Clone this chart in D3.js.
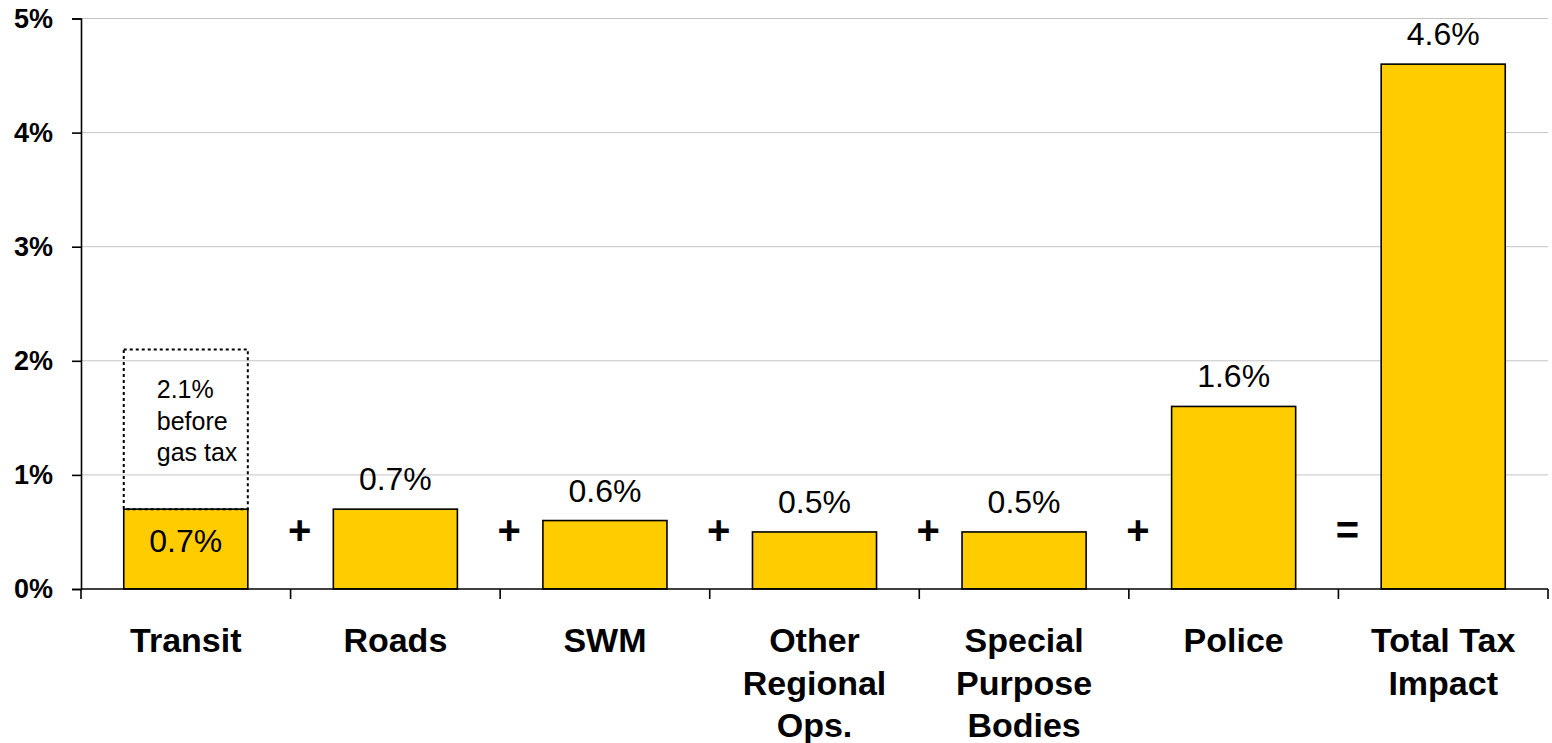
<!DOCTYPE html>
<html>
<head>
<meta charset="utf-8">
<script src="https://cdn.jsdelivr.net/npm/d3@7"></script>
<style>
  html, body { margin: 0; padding: 0; background: #ffffff; }
  svg { display: block; font-family: "Liberation Sans", Arial, sans-serif; }
</style>
</head>
<body>
<svg id="chart" width="1552" height="743"></svg>
<script>
// Components of the tax impact, in percent
const categories = ["Transit", "Roads", "SWM", "Other Regional Ops.", "Special Purpose Bodies", "Police", "Total Tax Impact"];
const categoryLines = [["Transit"], ["Roads"], ["SWM"], ["Other", "Regional", "Ops."], ["Special", "Purpose", "Bodies"], ["Police"], ["Total Tax", "Impact"]];
const values = [0.7, 0.7, 0.6, 0.5, 0.5, 1.6, 4.6];
const operators = ["+", "+", "+", "+", "+", "="];
const yTicks = [0, 1, 2, 3, 4, 5];
// Transit before the gas tax
const transitBeforeGasTax = 2.1;
const transitNote = ["2.1%", "before", "gas tax"];

const svg = d3.select("#chart");
const plotLeft = 81, plotRight = 1548, plotTop = 18.5, plotBottom = 589;

const x = d3.scaleBand().domain(categories).range([plotLeft, plotRight])
  .paddingInner(0.408).paddingOuter(0.204);
const y = d3.scaleLinear().domain([0, 5]).range([plotBottom, plotTop]);
const step = x.step();
const boundary = i => plotLeft + i * step;
const fmt = v => d3.format(".1f")(v) + "%";

// horizontal gridlines
svg.append("g").selectAll("line").data(yTicks.filter(d => d > 0)).join("line")
  .attr("x1", plotLeft).attr("x2", plotRight)
  .attr("y1", d => y(d)).attr("y2", d => y(d))
  .attr("stroke", "#c4c4c4").attr("stroke-width", 1);

// y axis
const yAxis = svg.append("g").attr("transform", `translate(${plotLeft},0)`)
  .call(d3.axisLeft(y).tickValues(yTicks).tickFormat(d => d + "%").tickSize(9).tickPadding(19));
yAxis.select(".domain").attr("stroke", "#000").attr("stroke-width", 1.6);
yAxis.selectAll(".tick line").attr("stroke", "#000").attr("stroke-width", 1.6);
yAxis.selectAll(".tick text").attr("font-size", 27).attr("font-weight", "bold")
  .attr("font-family", "'Liberation Sans', Arial, sans-serif").attr("fill", "#000");

// bars
svg.append("g").selectAll("rect").data(values).join("rect")
  .attr("x", (d, i) => x(categories[i]))
  .attr("y", d => y(d))
  .attr("width", x.bandwidth())
  .attr("height", d => y(0) - y(d))
  .attr("fill", "#FFCC00").attr("stroke", "#000").attr("stroke-width", 1.6);

// dotted outline for transit before gas tax
svg.append("rect")
  .attr("x", x(categories[0])).attr("y", y(transitBeforeGasTax))
  .attr("width", x.bandwidth()).attr("height", y(values[0]) - y(transitBeforeGasTax))
  .attr("fill", "none").attr("stroke", "#000").attr("stroke-width", 2)
  .attr("stroke-dasharray", "3,3");

svg.append("text")
  .attr("x", x(categories[0]) + 33).attr("y", 398)
  .attr("font-size", 25).attr("fill", "#000")
  .selectAll("tspan").data(transitNote).join("tspan")
  .attr("x", x(categories[0]) + 33).attr("dy", (d, i) => i === 0 ? 0 : 31.5)
  .text(d => d);

// x axis line and ticks at category boundaries
svg.append("line").attr("x1", plotLeft).attr("x2", plotRight).attr("y1", plotBottom).attr("y2", plotBottom)
  .attr("stroke", "#000").attr("stroke-width", 1.6);
svg.append("g").selectAll("line").data(d3.range(categories.length + 1)).join("line")
  .attr("x1", i => boundary(i)).attr("x2", i => boundary(i))
  .attr("y1", plotBottom).attr("y2", plotBottom + 10)
  .attr("stroke", "#000").attr("stroke-width", 1.6);

// value labels
svg.append("g").selectAll("text").data(values).join("text")
  .attr("x", (d, i) => x(categories[i]) + x.bandwidth() / 2)
  .attr("y", (d, i) => i === 0 ? y(d) + 43 : y(d) - 19)
  .attr("text-anchor", "middle").attr("font-size", 32).attr("fill", "#000")
  .text(d => fmt(d));

// operators between bars
svg.append("g").selectAll("text").data(operators).join("text")
  .attr("x", (d, i) => boundary(i + 1) + 9)
  .attr("y", plotBottom - 45)
  .attr("text-anchor", "middle").attr("font-size", 40).attr("font-weight", "bold").attr("fill", "#000")
  .text(d => d);

// category labels
const cat = svg.append("g").selectAll("text").data(categoryLines).join("text")
  .attr("x", (d, i) => x(categories[i]) + x.bandwidth() / 2)
  .attr("y", 652)
  .attr("text-anchor", "middle").attr("font-size", 34).attr("font-weight", "bold").attr("fill", "#000");
cat.selectAll("tspan").data(d => d).join("tspan")
  .attr("x", function () { return d3.select(this.parentNode).attr("x"); })
  .attr("dy", (d, i) => i === 0 ? 0 : 42.5)
  .text(d => d);
</script>
</body>
</html>
